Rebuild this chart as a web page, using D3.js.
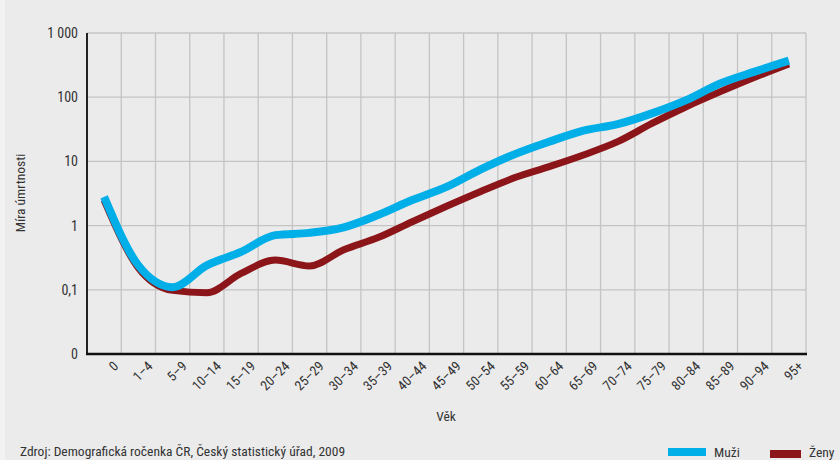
<!DOCTYPE html>
<meta charset="utf-8">
<head>
    <title>Míra úmrtnosti</title>
</head>
<style>
    body { margin: 0; background: #ebebeb; }
    text {
        font-family: "Liberation Sans Narrow", "Roboto Condensed", "Arial Narrow", "Liberation Sans", sans-serif;
        fill: #333;
    }
    .grid line { stroke: #c4c4c4; stroke-width: 1.3px; }
</style>
<svg width="840" height="460"></svg>
<script src="https://d3js.org/d3.v7.min.js"></script>
<script>

    // age groups (Věk)
    var ages = ["0", "1\u20134", "5\u20139", "10\u201314", "15\u201319", "20\u201324", "25\u201329", "30\u201334",
        "35\u201339", "40\u201344", "45\u201349", "50\u201354", "55\u201359", "60\u201364", "65\u201369",
        "70\u201374", "75\u201379", "80\u201384", "85\u201389", "90\u201394", "95+"];

    // mortality rate per 1000
    var muzi = [2.8, 0.24, 0.11, 0.24, 0.39, 0.71, 0.77, 0.94, 1.46, 2.5, 4.0, 7.5, 13.0, 20.3,
        30.1, 38, 56, 90, 164, 250, 371];
    var zeny = [2.5, 0.22, 0.098, 0.09, 0.18, 0.29, 0.235, 0.42, 0.65, 1.15, 2.0, 3.4, 5.6, 8.3,
        12.6, 20.3, 39, 71, 122, 204, 329];

    var yTicks = [0.01, 0.1, 1, 10, 100, 1000];
    var yTickLabels = ["0", "0,1", "1", "10", "100", "1 000"];

    var svg = d3.select("svg");
    svg.append("rect").attr("width", 840).attr("height", 460).attr("fill", "#ebebeb");
    svg.append("rect").attr("width", 5).attr("height", 460).attr("fill", "#f2f2f2");

    var pLeft = 87, pRight = 806, pTop = 33, pBottom = 354;

    var x = d3.scaleBand().domain(ages).range([pLeft, pRight]);
    var y = d3.scaleLog().domain([0.01, 1000]).range([pBottom, pTop]);

    // vertical grid at band edges
    var grid = svg.append("g").attr("class", "grid");
    grid.selectAll(".v")
        .data(ages)
        .enter().append("line")
        .attr("class", "v")
        .attr("x1", function(d) { return x(d) + x.bandwidth(); })
        .attr("x2", function(d) { return x(d) + x.bandwidth(); })
        .attr("y1", pTop)
        .attr("y2", pBottom);
    grid.selectAll(".h")
        .data(yTicks.slice(1))
        .enter().append("line")
        .attr("class", "h")
        .attr("x1", pLeft)
        .attr("x2", pRight)
        .attr("y1", function(d) { return y(d); })
        .attr("y2", function(d) { return y(d); });

    // y axis labels
    svg.append("g").selectAll("text")
        .data(yTicks)
        .enter().append("text")
        .attr("x", 78)
        .attr("y", function(d) { return y(d); })
        .attr("dy", "0.35em")
        .attr("text-anchor", "end")
        .style("font-size", "14px")
        .text(function(d, i) { return yTickLabels[i]; });

    // x axis labels
    svg.append("g").selectAll("text")
        .data(ages)
        .enter().append("text")
        .attr("text-anchor", "end")
        .style("font-size", "13.5px")
        .attr("transform", function(d) {
            return "translate(" + (x(d) + x.bandwidth() - 2) + "," + (pBottom + 13) + ") rotate(-45)";
        })
        .text(function(d) { return d; });

    var line = d3.line()
        .x(function(d, i) { return x(ages[i]) + x.bandwidth() / 2; })
        .y(function(d) { return y(d); })
        .curve(d3.curveMonotoneX);

    svg.append("path")
        .datum(zeny)
        .attr("d", line)
        .attr("fill", "none")
        .attr("stroke", "#8c1519")
        .attr("stroke-width", 7);

    svg.append("path")
        .datum(muzi)
        .attr("d", line)
        .attr("fill", "none")
        .attr("stroke", "#00aee8")
        .attr("stroke-width", 8);

    // axes lines
    svg.append("line")
        .attr("x1", pLeft).attr("x2", pLeft)
        .attr("y1", pTop).attr("y2", pBottom + 1)
        .attr("stroke", "#222").attr("stroke-width", 2);
    svg.append("line")
        .attr("x1", pLeft - 1).attr("x2", pRight + 1)
        .attr("y1", pBottom).attr("y2", pBottom)
        .attr("stroke", "#111").attr("stroke-width", 2.5);

    // axis titles
    svg.append("text")
        .attr("transform", "translate(25,193) rotate(-90)")
        .attr("text-anchor", "middle")
        .style("font-size", "13.5px")
        .text("Míra úmrtnosti");
    svg.append("text")
        .attr("x", 446).attr("y", 421)
        .attr("text-anchor", "middle")
        .style("font-size", "13.5px")
        .text("Věk");

    svg.append("text")
        .attr("x", 20).attr("y", 456)
        .style("font-size", "13.5px")
        .text("Zdroj: Demografická ročenka ČR, Český statistický úřad, 2009");

    // legend
    var legend = [
        {name: "Muži", color: "#00aee8", x: 668, w: 38, y: 448},
        {name: "Ženy", color: "#8c1519", x: 770, w: 31, y: 450}
    ];
    var lg = svg.append("g").selectAll("g").data(legend).enter().append("g");
    lg.append("rect")
        .attr("x", function(d) { return d.x; })
        .attr("y", function(d) { return d.y; })
        .attr("width", function(d) { return d.w; })
        .attr("height", 8)
        .attr("fill", function(d) { return d.color; });
    lg.append("text")
        .attr("x", function(d) { return d.x + d.w + 8; })
        .attr("y", 457)
        .style("font-size", "13.5px")
        .text(function(d) { return d.name; });

</script>
